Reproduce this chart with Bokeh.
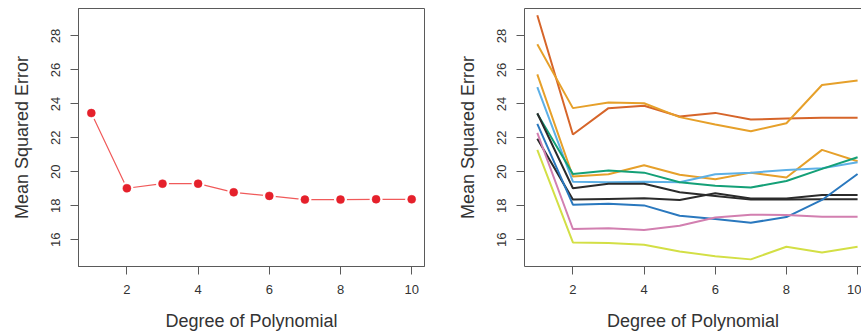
from bokeh.plotting import figure
from bokeh.layouts import row
from bokeh.models import Range1d, FixedTicker, LinearAxis
from bokeh.embed import file_html
from bokeh.resources import INLINE

# ---------------- data ----------------
degrees = [1, 2, 3, 4, 5, 6, 7, 8, 9, 10]
single_split_mse = [23.46, 19.03, 19.30, 19.30, 18.79, 18.58, 18.36, 18.36, 18.38, 18.38]

split_mse = [
    [29.22, 22.20, 23.75, 23.89, 23.26, 23.47, 23.08, 23.14, 23.18, 23.18],
    [27.51, 23.75, 24.08, 24.04, 23.22, 22.79, 22.39, 22.86, 25.11, 25.38],
    [25.74, 19.72, 19.85, 20.38, 19.83, 19.56, 19.95, 19.66, 21.29, 20.62],
    [24.99, 19.42, 19.38, 19.42, 19.38, 19.85, 19.95, 20.11, 20.21, 20.56],
    [23.42, 19.87, 20.07, 19.95, 19.38, 19.18, 19.07, 19.46, 20.17, 20.86],
    [23.45, 19.03, 19.30, 19.30, 18.79, 18.58, 18.36, 18.36, 18.38, 18.38],
    [21.94, 18.36, 18.40, 18.44, 18.34, 18.73, 18.42, 18.42, 18.63, 18.63],
    [22.82, 18.06, 18.12, 18.02, 17.41, 17.22, 17.00, 17.33, 18.34, 19.87],
    [22.29, 16.63, 16.67, 16.57, 16.82, 17.31, 17.47, 17.45, 17.35, 17.35],
    [21.29, 15.84, 15.80, 15.70, 15.31, 15.03, 14.84, 15.58, 15.25, 15.58],
]
split_colors = ["#D6652A", "#E6A02A", "#E6A02A", "#5DB0E6", "#14A077",
                "#2B2B2B", "#2B2B2B", "#2A78BE", "#D27FB0", "#D3DF45"]

x_ticks = [2, 4, 6, 8, 10]
y_ticks = [16, 18, 20, 22, 24, 26, 28]
x_label = "Degree of Polynomial"
y_label = "Mean Squared Error"

FONT = "Liberation Sans"
FRAME = "#5a5a5a"
TXT = "#333333"
Y0, Y1 = 14.42, 29.62


def style(p):
    p.background_fill_color = "white"
    p.border_fill_color = "white"
    p.grid.visible = False
    for ax in (p.xaxis[0], p.yaxis[0]):
        ax.axis_line_color = FRAME
        ax.axis_line_width = 1
        ax.major_tick_line_color = FRAME
        ax.major_tick_line_width = 1
        ax.major_tick_out = 8
        ax.major_tick_in = 0
        ax.minor_tick_line_color = None
        ax.major_label_text_font = FONT
        ax.major_label_text_font_size = "13px"
        ax.major_label_text_color = TXT
        ax.axis_label_text_font = FONT
        ax.axis_label_text_font_size = "18px"
        ax.axis_label_text_font_style = "normal"
        ax.axis_label_text_color = TXT
    p.xaxis[0].ticker = FixedTicker(ticks=x_ticks)
    p.yaxis[0].ticker = FixedTicker(ticks=y_ticks)
    p.xaxis[0].axis_label = x_label
    p.yaxis[0].axis_label = y_label
    p.yaxis[0].major_label_orientation = "vertical"
    p.xaxis[0].major_label_standoff = 10
    p.yaxis[0].major_label_standoff = 10
    p.xaxis[0].axis_label_standoff = 14
    p.yaxis[0].axis_label_standoff = 17


# ---------------- left panel ----------------
left = figure(width=430, height=333, output_backend="svg", toolbar_location=None,
              x_range=Range1d(0.64, 10.36), y_range=Range1d(Y0, Y1),
              min_border_left=78, min_border_right=6, min_border_top=8, min_border_bottom=67)
style(left)
left.outline_line_color = FRAME
left.outline_line_width = 1
left.line(degrees, single_split_mse, line_color="#F05A5A", line_width=1.2)
left.scatter(degrees, single_split_mse, size=13, fill_color="white", line_color=None)
left.scatter(degrees, single_split_mse, size=8, fill_color="#E5202B", line_color="#E5202B", line_width=0.5)

# ---------------- right panel ----------------
right = figure(width=431, height=333, output_backend="svg", toolbar_location=None,
               x_range=Range1d(0.64, 10.11), y_range=Range1d(Y0, Y1),
               min_border_left=94, min_border_right=0, min_border_top=8, min_border_bottom=67)
style(right)
right.outline_line_color = None
top_axis = LinearAxis(ticker=FixedTicker(ticks=[]), major_label_text_font_size="0px",
                      axis_line_color=FRAME, major_tick_line_color=None, minor_tick_line_color=None)
right.add_layout(top_axis, "above")
for ys, c in zip(split_mse, split_colors):
    right.line(degrees, ys, line_color=c, line_width=2)

layout = row(left, right)
open("out.html", "w").write(file_html(layout, INLINE))
